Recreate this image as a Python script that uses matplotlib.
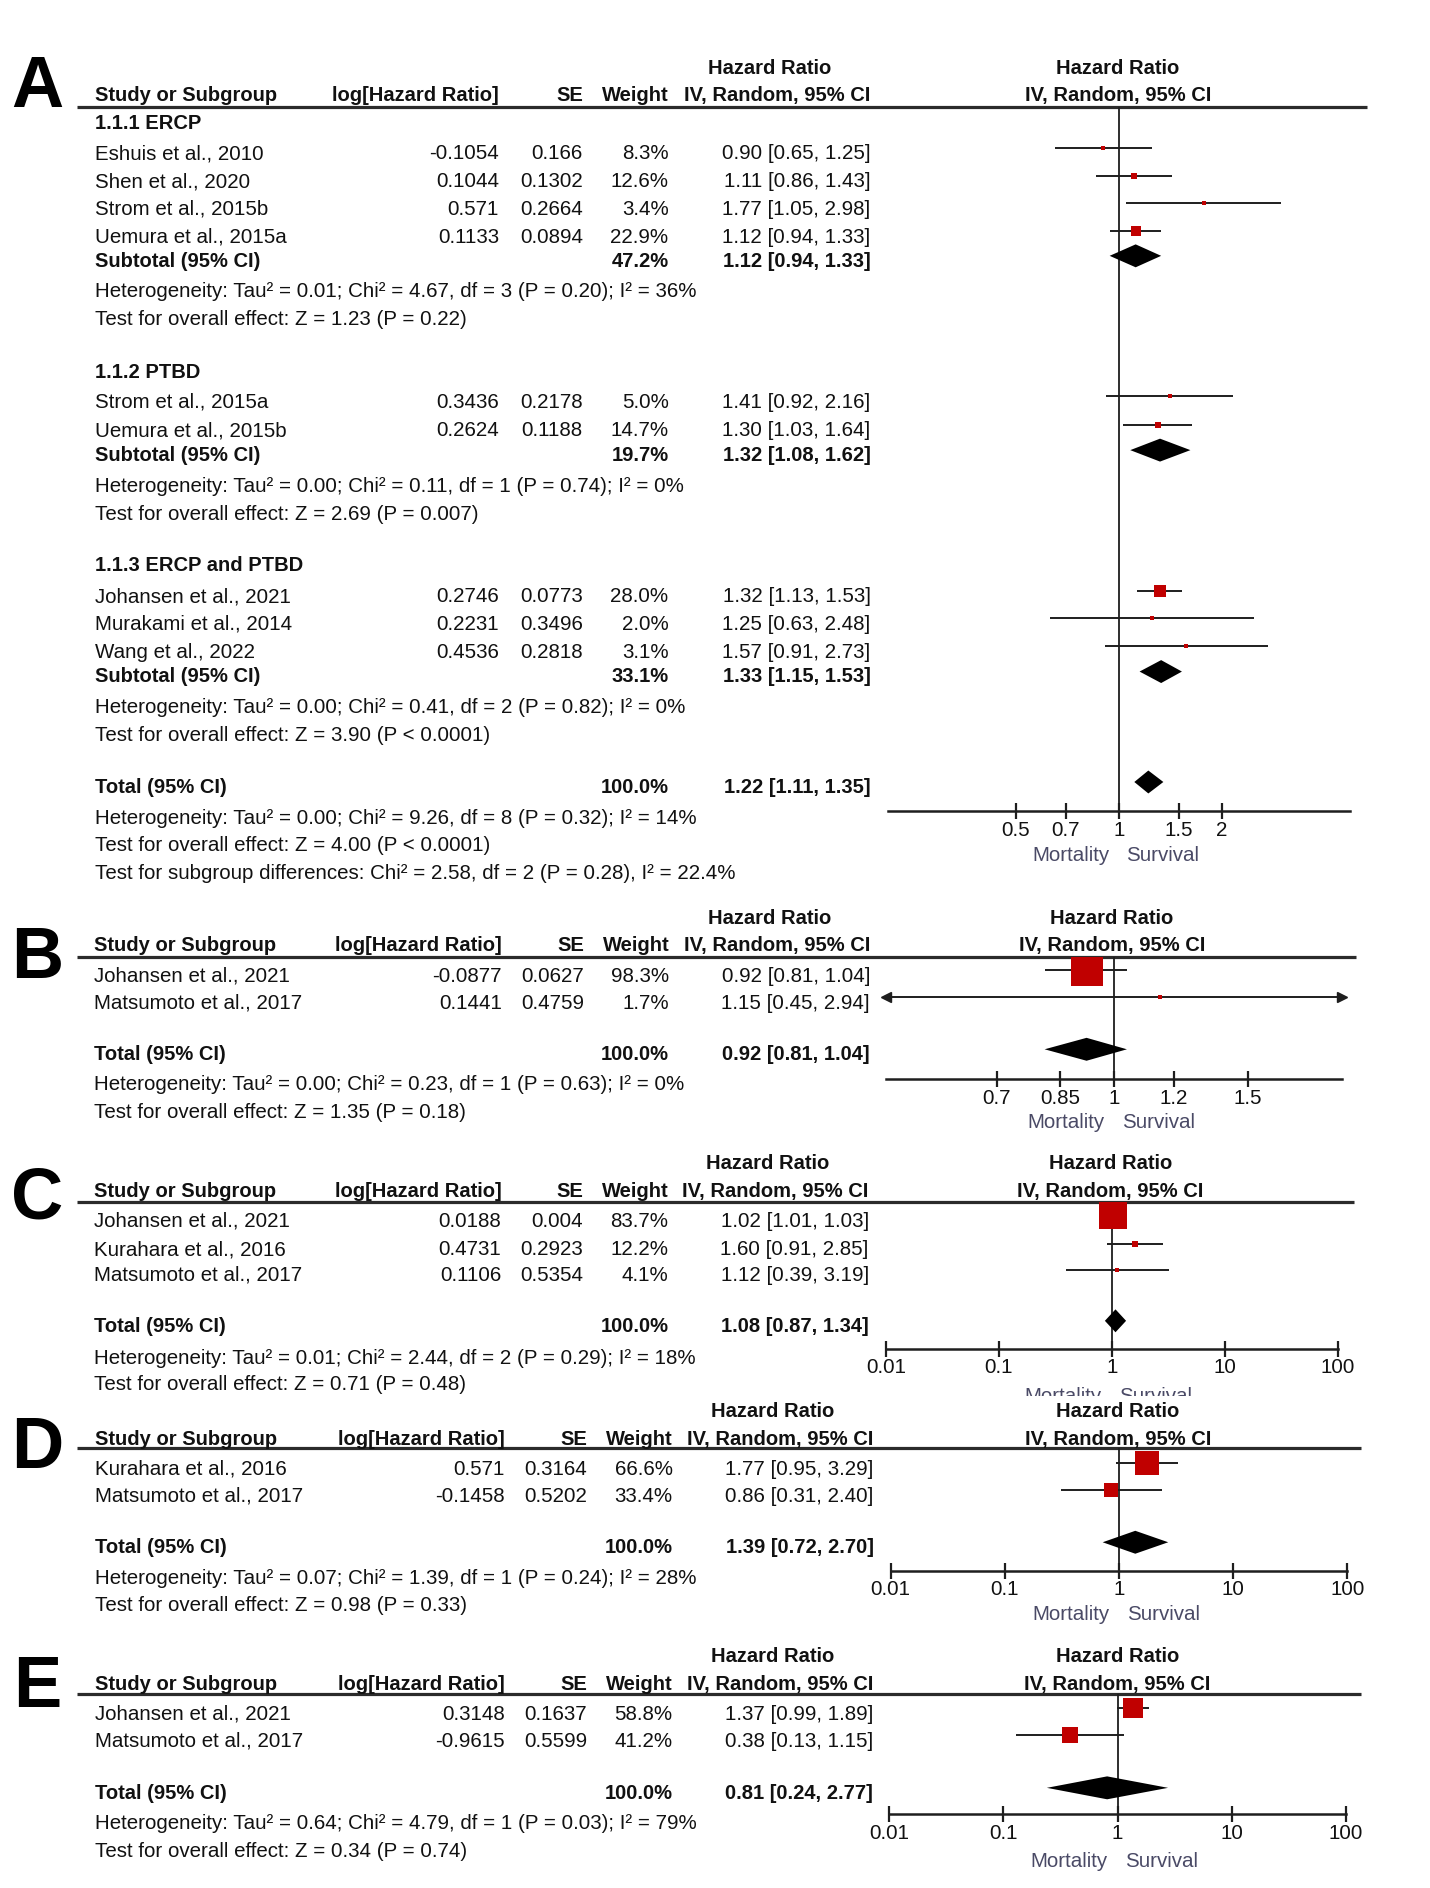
import matplotlib.pyplot as plt
from matplotlib.ticker import NullLocator
from matplotlib.transforms import Bbox, TransformedBbox

plt.rcParams["font.family"] = ["Liberation Sans", "DejaVu Sans"]

# ---------------- data ----------------
# A: subgroups by drainage route
a_titles = ["1.1.1 ERCP", "1.1.2 PTBD", "1.1.3 ERCP and PTBD"]
a_names = [["Eshuis et al., 2010", "Shen et al., 2020", "Strom et al., 2015b", "Uemura et al., 2015a"],
           ["Strom et al., 2015a", "Uemura et al., 2015b"],
           ["Johansen et al., 2021", "Murakami et al., 2014", "Wang et al., 2022"]]
a_loghr = [[-0.1054, 0.1044, 0.571, 0.1133], [0.3436, 0.2624], [0.2746, 0.2231, 0.4536]]
a_se = [[0.166, 0.1302, 0.2664, 0.0894], [0.2178, 0.1188], [0.0773, 0.3496, 0.2818]]
a_w = [[8.3, 12.6, 3.4, 22.9], [5.0, 14.7], [28.0, 2.0, 3.1]]
a_hr = [[0.90, 1.11, 1.77, 1.12], [1.41, 1.30], [1.32, 1.25, 1.57]]
a_lo = [[0.65, 0.86, 1.05, 0.94], [0.92, 1.03], [1.13, 0.63, 0.91]]
a_hi = [[1.25, 1.43, 2.98, 1.33], [2.16, 1.64], [1.53, 2.48, 2.73]]
a_sub = [[47.2, 1.12, 0.94, 1.33], [19.7, 1.32, 1.08, 1.62], [33.1, 1.33, 1.15, 1.53]]
a_het = ["Heterogeneity: Tau² = 0.01; Chi² = 4.67, df = 3 (P = 0.20); I² = 36%",
         "Heterogeneity: Tau² = 0.00; Chi² = 0.11, df = 1 (P = 0.74); I² = 0%",
         "Heterogeneity: Tau² = 0.00; Chi² = 0.41, df = 2 (P = 0.82); I² = 0%"]
a_z = ["Test for overall effect: Z = 1.23 (P = 0.22)",
       "Test for overall effect: Z = 2.69 (P = 0.007)",
       "Test for overall effect: Z = 3.90 (P < 0.0001)"]
a_total = [100.0, 1.22, 1.11, 1.35]
a_total_het = "Heterogeneity: Tau² = 0.00; Chi² = 9.26, df = 8 (P = 0.32); I² = 14%"
a_total_z = "Test for overall effect: Z = 4.00 (P < 0.0001)"
a_subdiff = "Test for subgroup differences: Chi² = 2.58, df = 2 (P = 0.28), I² = 22.4%"

b_names = ["Johansen et al., 2021", "Matsumoto et al., 2017"]
b_loghr = [-0.0877, 0.1441]
b_se = [0.0627, 0.4759]
b_w = [98.3, 1.7]
b_hr = [0.92, 1.15]
b_lo = [0.81, 0.45]
b_hi = [1.04, 2.94]
b_total = [100.0, 0.92, 0.81, 1.04]
b_het = "Heterogeneity: Tau² = 0.00; Chi² = 0.23, df = 1 (P = 0.63); I² = 0%"
b_z = "Test for overall effect: Z = 1.35 (P = 0.18)"

c_names = ["Johansen et al., 2021", "Kurahara et al., 2016", "Matsumoto et al., 2017"]
c_loghr = [0.0188, 0.4731, 0.1106]
c_se = [0.004, 0.2923, 0.5354]
c_w = [83.7, 12.2, 4.1]
c_hr = [1.02, 1.60, 1.12]
c_lo = [1.01, 0.91, 0.39]
c_hi = [1.03, 2.85, 3.19]
c_total = [100.0, 1.08, 0.87, 1.34]
c_het = "Heterogeneity: Tau² = 0.01; Chi² = 2.44, df = 2 (P = 0.29); I² = 18%"
c_z = "Test for overall effect: Z = 0.71 (P = 0.48)"

d_names = ["Kurahara et al., 2016", "Matsumoto et al., 2017"]
d_loghr = [0.571, -0.1458]
d_se = [0.3164, 0.5202]
d_w = [66.6, 33.4]
d_hr = [1.77, 0.86]
d_lo = [0.95, 0.31]
d_hi = [3.29, 2.40]
d_total = [100.0, 1.39, 0.72, 2.70]
d_het = "Heterogeneity: Tau² = 0.07; Chi² = 1.39, df = 1 (P = 0.24); I² = 28%"
d_z = "Test for overall effect: Z = 0.98 (P = 0.33)"

e_names = ["Johansen et al., 2021", "Matsumoto et al., 2017"]
e_loghr = [0.3148, -0.9615]
e_se = [0.1637, 0.5599]
e_w = [58.8, 41.2]
e_hr = [1.37, 0.38]
e_lo = [0.99, 0.13]
e_hi = [1.89, 1.15]
e_total = [100.0, 0.81, 0.24, 2.77]
e_het = "Heterogeneity: Tau² = 0.64; Chi² = 4.79, df = 1 (P = 0.03); I² = 79%"
e_z = "Test for overall effect: Z = 0.34 (P = 0.74)"

ticks_narrow = [0.5, 0.7, 1, 1.5, 2]
ticks_b = [0.7, 0.85, 1, 1.2, 1.5]
ticks_wide = [0.01, 0.1, 1, 10, 100]

# ---------------- style ----------------
W, H = 1185, 1564.5        # layout units
REG = 14.8
BLD = 14.5
INK = "#111111"
LINE = "#1e1e1e"
RED = "#c00000"
MUTED = "#4a4a66"
BASE = 6                  # baseline sits this far below a row's visual centre

fig = plt.figure(figsize=(14.3, 18.88), dpi=100)
bg = fig.add_axes([0, 0, 1, 1])
bg.set_xlim(0, W)
bg.set_ylim(H, 0)
bg.axis("off")


def put(x, y, s, ha="left", bold=False):
    return bg.text(x, y + BASE, s, ha=ha, va="baseline", color=INK,
                   fontsize=BLD if bold else REG,
                   fontweight="bold" if bold else "normal")


def header(letter, letter_base, y1, y2, line_y, line_x1, cols, hr_c, right_c):
    bg.text(31, letter_base, letter, ha="center", va="baseline",
            fontsize=52, fontweight="bold", color="black")
    put(hr_c, y1, "Hazard Ratio", ha="center", bold=True)
    put(right_c, y1, "Hazard Ratio", ha="center", bold=True)
    put(cols[0], y2, "Study or Subgroup", bold=True)
    put(cols[1], y2, "log[Hazard Ratio]", ha="right", bold=True)
    put(cols[2], y2, "SE", ha="right", bold=True)
    put(cols[3], y2, "Weight", ha="right", bold=True)
    put(cols[4], y2, "IV, Random, 95% CI", ha="right", bold=True)
    put(right_c, y2, "IV, Random, 95% CI", ha="center", bold=True)
    bg.plot([64, line_x1], [line_y, line_y], color="#2b2b2b", lw=2.3,
            solid_capstyle="butt")


def forest(x0, x1, top, bottom, axis_y, xlim, ticks, mort_y, bounds=None):
    ax = fig.add_axes([x0 / W, 1 - bottom / H, (x1 - x0) / W, (bottom - top) / H])
    ax.patch.set_visible(False)
    ax.set_xscale("log")
    ax.set_xlim(*xlim)
    ax.set_ylim(bottom, top)
    for s in ("left", "right", "top"):
        ax.spines[s].set_visible(False)
    sp = ax.spines["bottom"]
    sp.set_position(("data", axis_y))
    sp.set_linewidth(1.8)
    sp.set_color(LINE)
    if bounds:
        sp.set_bounds(*bounds)
    ax.set_yticks([])
    ax.set_xticks(ticks, [f"{t:g}" for t in ticks])
    ax.xaxis.set_minor_locator(NullLocator())
    ax.tick_params(axis="x", direction="inout", length=12, width=1.6,
                   color=LINE, labelcolor=INK, labelsize=REG, pad=1)
    ax.vlines(1, top, axis_y, color=LINE, lw=1.3, zorder=1)
    for lab, dx, ha in (("Mortality", -7, "right"), ("Survival", 5.5, "left")):
        t = ax.annotate(lab, (1, mort_y + BASE), xytext=(dx, 0),
                        textcoords="offset points", ha=ha, va="baseline",
                        fontsize=REG, color=MUTED, annotation_clip=False)
        t.set_clip_box(ax.bbox)
    return ax


def studies(ax, ys, cols, names, loghr, se, w, hr, lo, hi):
    x_lo, x_hi = ax.get_xlim()
    for y, n, l, s, wt, h, a, b in zip(ys, names, loghr, se, w, hr, lo, hi):
        put(cols[0], y, n)
        put(cols[1], y, str(l), ha="right")
        put(cols[2], y, str(s), ha="right")
        put(cols[3], y, f"{wt:.1f}%", ha="right")
        put(cols[4], y, f"{h:.2f} [{a:.2f}, {b:.2f}]", ha="right")
        ym = y - 3.5
        ax.hlines(ym, max(a, x_lo), min(b, x_hi), color=LINE, lw=1.4, zorder=2)
        if a < x_lo:
            ax.plot(x_lo, ym, marker="<", ms=7, color=LINE, clip_on=False, zorder=3)
        if b > x_hi:
            ax.plot(x_hi, ym, marker=">", ms=7, color=LINE, clip_on=False, zorder=3)
        side = max(4.5, 0.8 * wt ** 0.8) / 1.389
        ax.plot(h, ym, marker="s", ms=side, color=RED, mew=0, zorder=4)


def pooled(ax, y, cols, label, vals):
    put(cols[0], y, label, bold=True)
    put(cols[3], y, f"{vals[0]:.1f}%", ha="right", bold=True)
    put(cols[4], y, f"{vals[1]:.2f} [{vals[2]:.2f}, {vals[3]:.2f}]", ha="right", bold=True)
    ym = y - 3
    ax.fill([vals[2], vals[1], vals[3], vals[1]], [ym, ym - 9.5, ym, ym + 9.5],
            color="black", lw=0, zorder=4)


# ---------------- panel A ----------------
cols = [78.5, 413.5, 483, 554, 721.5]
header("A", 88.4, 55, 77.5, 88.5, 1133, cols, 637.5, 926.5)
ax = forest(729.3, 1125, 88.5, 720, 672, (0.2, 5), ticks_narrow, 707.5,
            bounds=(0.211, 4.75))
title_y = [100.5, 307, 467.5]
row_y = [[126, 149, 172, 195], [332, 355.5], [493, 516, 539]]
sub_y = [215, 376, 559.5]
het_y = [240.5, 401.5, 585]
z_y = [263.5, 424.5, 608]
for g in range(3):
    put(cols[0], title_y[g], a_titles[g], bold=True)
    studies(ax, row_y[g], cols, a_names[g], a_loghr[g], a_se[g], a_w[g],
            a_hr[g], a_lo[g], a_hi[g])
    pooled(ax, sub_y[g], cols, "Subtotal (95% CI)", a_sub[g])
    put(cols[0], het_y[g], a_het[g])
    put(cols[0], z_y[g], a_z[g])
pooled(ax, 651, cols, "Total (95% CI)", a_total)
put(cols[0], 677, a_total_het)
put(cols[0], 699.5, a_total_z)
t = put(cols[0], 722.5, a_subdiff)
t.set_clip_box(TransformedBbox(Bbox([[0, 0], [W, 728.5]]), bg.transData))

# ---------------- panel B ----------------
cols = [78, 416, 484, 554.5, 721]
header("B", 810.7, 760, 782, 793, 1124, cols, 637.5, 921.5)
ax = forest(734, 1112.3, 793, 945, 894.5, (0.5, 2), ticks_b, 928.5)
studies(ax, [807.5, 830], cols, b_names, b_loghr, b_se, b_w, b_hr, b_lo, b_hi)
pooled(ax, 872.5, cols, "Total (95% CI)", b_total)
put(cols[0], 897.5, b_het)
put(cols[0], 920.5, b_z)

# ---------------- panel C ----------------
cols = [78, 415.5, 483, 554, 720]
header("C", 1009.5, 963, 985.5, 996, 1122, cols, 636, 920)
ax = forest(734, 1108.5, 996, 1156.5, 1117.5, (0.01, 100), ticks_wide, 1156)
studies(ax, [1010.5, 1034, 1055.5], cols, c_names, c_loghr, c_se, c_w, c_hr, c_lo, c_hi)
pooled(ax, 1097.5, cols, "Total (95% CI)", c_total)
put(cols[0], 1124, c_het)
put(cols[0], 1146, c_z)

# ---------------- panel D ----------------
cols = [78.5, 418.5, 486.5, 557.5, 724]
header("D", 1216.7, 1168, 1191, 1200, 1128, cols, 640, 926.5)
ax = forest(738, 1116.5, 1200, 1352, 1301.5, (0.01, 100), ticks_wide, 1336.5)
studies(ax, [1216, 1238.5], cols, d_names, d_loghr, d_se, d_w, d_hr, d_lo, d_hi)
pooled(ax, 1281, cols, "Total (95% CI)", d_total)
put(cols[0], 1306.5, d_het)
put(cols[0], 1329, d_z)

# ---------------- panel E ----------------
cols = [78.5, 418.5, 486.5, 557.5, 723.5]
header("E", 1414.8, 1371.5, 1394.5, 1404, 1127.5, cols, 640.5, 926)
ax = forest(737, 1115.2, 1404, 1560, 1503, (0.01, 100), ticks_wide, 1541)
studies(ax, [1419, 1441.5], cols, e_names, e_loghr, e_se, e_w, e_hr, e_lo, e_hi)
pooled(ax, 1484.5, cols, "Total (95% CI)", e_total)
put(cols[0], 1510, e_het)
put(cols[0], 1533, e_z)

fig.savefig("out.png", dpi=100, facecolor="white")
